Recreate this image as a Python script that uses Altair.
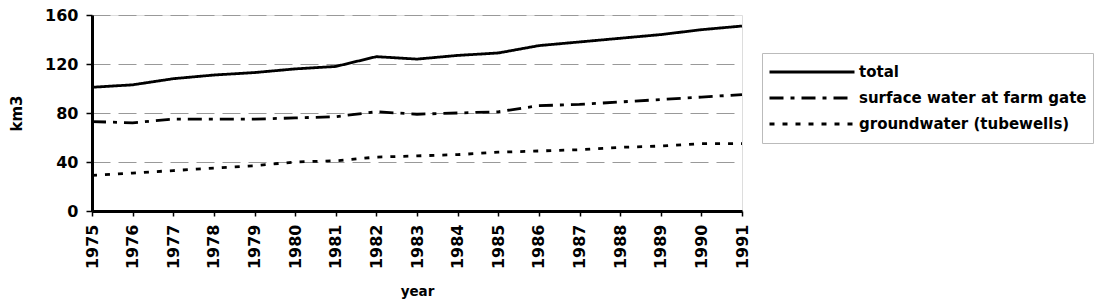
import altair as alt
import pandas as pd

years = list(range(1975, 1992))
total = [101, 103, 108, 111, 113, 116, 118, 126, 124, 127, 129, 135, 138, 141, 144, 148, 151]
surface = [73, 72, 75, 75, 75, 76, 77, 81, 79, 80, 81, 86, 87, 89, 91, 93, 95]
ground = [29, 31, 33, 35, 37, 40, 41, 44, 45, 46, 48, 49, 50, 52, 53, 55, 55]
series = ["total", "surface water at farm gate", "groundwater (tubewells)"]

rows = []
for name, vals in zip(series, [total, surface, ground]):
    for y, v in zip(years, vals):
        rows.append({"year": y, "km3": v, "series": name})
df = pd.DataFrame(rows)

FONT = "DejaVu Sans"

chart = alt.Chart(df).mark_line(strokeWidth=2.8, color="black").encode(
    x=alt.X("year:Q", scale=alt.Scale(domain=[1975, 1991], nice=False, zero=False),
            axis=alt.Axis(values=years, format="d", labelAngle=270, title="year",
                          labelFontSize=16, labelFont=FONT, labelFontWeight="bold",
                          titleFont=FONT, titleFontSize=13.5, titleFontWeight="bold",
                          titlePadding=16, tickSize=5, tickColor="black", tickWidth=1.5,
                          domainColor="black", domainWidth=3, grid=False, labelPadding=8,
                          labelColor="black", titleColor="black")),
    y=alt.Y("km3:Q", scale=alt.Scale(domain=[0, 160], nice=False),
            axis=alt.Axis(values=[0, 40, 80, 120, 160], title="km3",
                          labelFontSize=16, labelFont=FONT, labelFontWeight="bold",
                          titleFont=FONT, titleFontSize=15, titleFontWeight="bold",
                          titlePadding=20, tickSize=6, tickColor="black", tickWidth=1.5,
                          domainColor="black", domainWidth=3, grid=True,
                          gridColor="#999", gridWidth=1, gridDash=[18, 8],
                          labelPadding=8, labelColor="black", titleColor="black")),
    strokeDash=alt.StrokeDash("series:N",
        scale=alt.Scale(domain=series, range=[[1, 0], [14, 7, 4, 7], [5, 8]]),
        legend=alt.Legend(title=None, orient="none", legendX=670, legendY=38,
                          symbolType="stroke", symbolSize=7225, symbolStrokeWidth=2.8,
                          symbolStrokeColor="black", labelFont=FONT, labelFontSize=15,
                          labelFontWeight="bold", labelColor="black", labelOffset=3,
                          labelLimit=400, clipHeight=26, rowPadding=0,
                          strokeColor="#bbb", padding=6)),
    order=alt.Order("year:Q"),
).properties(
    width=650, height=196,
    padding={"left": 92, "top": 15, "right": 358, "bottom": 93},
    autosize="none",
).configure_view(stroke="black", strokeWidth=3).configure(background="white")

chart.save("out.html", embed_options={"renderer": "svg", "actions": False})
